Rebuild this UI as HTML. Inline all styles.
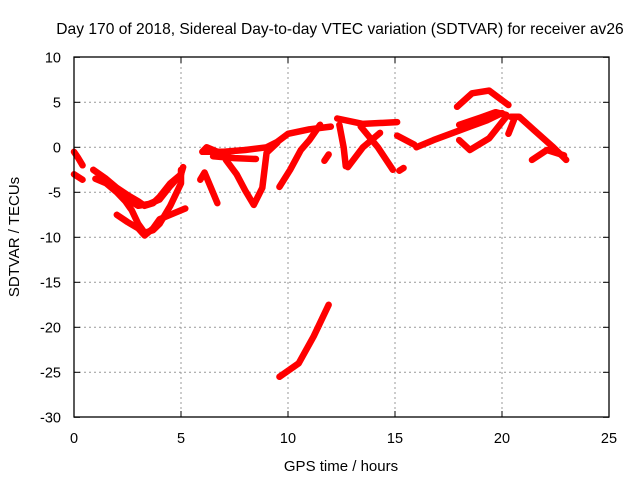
<!DOCTYPE html>
<html><head><meta charset="utf-8"><style>
body{margin:0;background:#fff}
svg{display:block;font-family:"Liberation Sans",sans-serif}
</style></head><body>
<svg width="640" height="480" id="c">
<rect width="640" height="480" fill="#fff"/>
<text x="340" y="34" text-anchor="middle" font-size="15.6">Day 170 of 2018, Sidereal Day-to-day VTEC variation (SDTVAR) for receiver av26</text>
<text x="341" y="471" text-anchor="middle" font-size="15">GPS time / hours</text>
<text transform="translate(19,237) rotate(-90)" text-anchor="middle" font-size="15">SDTVAR / TECUs</text>
<g id="grid"></g><g id="series"></g>
<rect x="74" y="57" width="535" height="360" fill="none" stroke="#000" stroke-width="1.3"/>
</svg>
<script>
const xTicks=[0,5,10,15,20,25];
const yTicks=[10,5,0,-5,-10,-15,-20,-25,-30];
const tracks=[
[[0,-0.5],[0.2,-1.2],[0.4,-2]],
[[0,-3],[0.2,-3.3],[0.4,-3.6]],
[[0.9,-2.5],[1.5,-3.5],[2,-4.5],[2.5,-5.3],[3,-6],[3.3,-6.5],[3.7,-6.2],[4,-5.5],[4.5,-4],[5,-3],[5.1,-2.2]],
[[1,-3.5],[1.5,-4],[2,-5],[2.4,-6],[2.7,-7],[3,-8.5],[3.3,-9.5],[3.7,-9.2],[4,-8.5],[4.5,-6.5],[5,-4],[5,-2.5]],
[[2,-7.5],[2.5,-8.3],[3,-9],[3.3,-9.8],[3.7,-9],[4,-8],[4.5,-7.5],[5.2,-6.8]],
[[2.5,-5.8],[3,-6.5],[3.5,-6.3],[4,-5.8],[4.5,-4.3],[5,-3]],
[[6,-0.5],[6.2,0],[6.7,-0.5]],
[[5.9,-3.6],[6.1,-2.8],[6.4,-4.5],[6.7,-6.2]],
[[7.1,-1.4],[7.6,-3],[8,-4.8],[8.4,-6.4],[8.8,-4.5],[9,-0.6],[9.5,0.5]],
[[9.6,-4.4],[10.1,-2.5],[10.6,-0.3],[11,0.8],[11.5,2.5]],
[[6,-0.5],[7,-0.5],[8,-0.3],[9,0],[9.5,0.6],[10,1.5],[11,2],[12,2.3]],
[[6.5,-1],[7.5,-1.2],[8.5,-1.3]],
[[11.7,-1.5],[11.9,-0.8]],
[[12.3,3.2],[13.5,2.6],[15.1,2.8]],
[[12.4,2.5],[12.6,0],[12.7,-2.1]],
[[13.4,2.3],[14.2,0],[14.9,-2.5]],
[[14.3,1.6],[13.5,0],[12.8,-2.2]],
[[15.1,1.3],[15.9,0.3]],
[[15.2,-2.6],[15.4,-2.3]],
[[16,0],[16.8,0.8],[17.7,1.6],[18.5,2.3],[19.3,3],[20,3.8]],
[[18,0.8],[18.5,-0.3],[19.4,1],[20.2,3.4]],
[[18,2.5],[19,3.3],[19.7,3.9],[20.2,3.6]],
[[17.9,4.5],[18.6,6],[19.4,6.3],[20.3,4.7]],
[[20.4,3.4],[20.8,3.4],[21.5,1.9],[22.4,0],[23,-1.4]],
[[21.4,-1.4],[22.1,-0.3],[22.9,-0.9]],
[[20.3,1.5],[20.6,3.3]],
[[9.6,-25.5],[10.5,-24],[11.2,-21],[11.9,-17.5]]
];
const X=v=>74+v*21.4, Y=v=>147.3-v*9;
const NS="http://www.w3.org/2000/svg";
const g=document.getElementById('grid'), s=document.getElementById('series');
function mk(t,a,p){const e=document.createElementNS(NS,t);for(const k in a)e.setAttribute(k,a[k]);p.appendChild(e);return e;}
xTicks.forEach(v=>{
 if(v>0&&v<25){const l=mk('line',{x1:X(v),x2:X(v),y1:57,y2:417,stroke:'#999','stroke-dasharray':'2,3'},g);
 
 }
 const t=mk('text',{x:X(v),y:443,'text-anchor':'middle','font-size':14.5},g);t.textContent=v;
 
 
 mk('line',{x1:X(v),x2:X(v),y1:417,y2:411,stroke:'#000'},g);mk('line',{x1:X(v),x2:X(v),y1:57,y2:63,stroke:'#000'},g);
});
yTicks.forEach(v=>{
 if(v<10&&v>-30){const l=mk('line',{x1:74,x2:609,y1:Y(v),y2:Y(v),stroke:'#999','stroke-dasharray':'2,3'},g);
 
 }
 const t=mk('text',{x:61,y:Y(v)+5,'text-anchor':'end','font-size':14.5},g);t.textContent=v;
 
 
 mk('line',{x1:74,x2:80,y1:Y(v),y2:Y(v),stroke:'#000'},g);mk('line',{x1:603,x2:609,y1:Y(v),y2:Y(v),stroke:'#000'},g);
});
tracks.forEach(tr=>{
 const p=mk('polyline',{points:tr.map(q=>X(q[0])+','+Y(q[1])).join(' '),fill:'none',stroke:'#f00','stroke-width':6.5,'stroke-linejoin':'round','stroke-linecap':'round'},s);
 
 
});
</script>
</body></html>
